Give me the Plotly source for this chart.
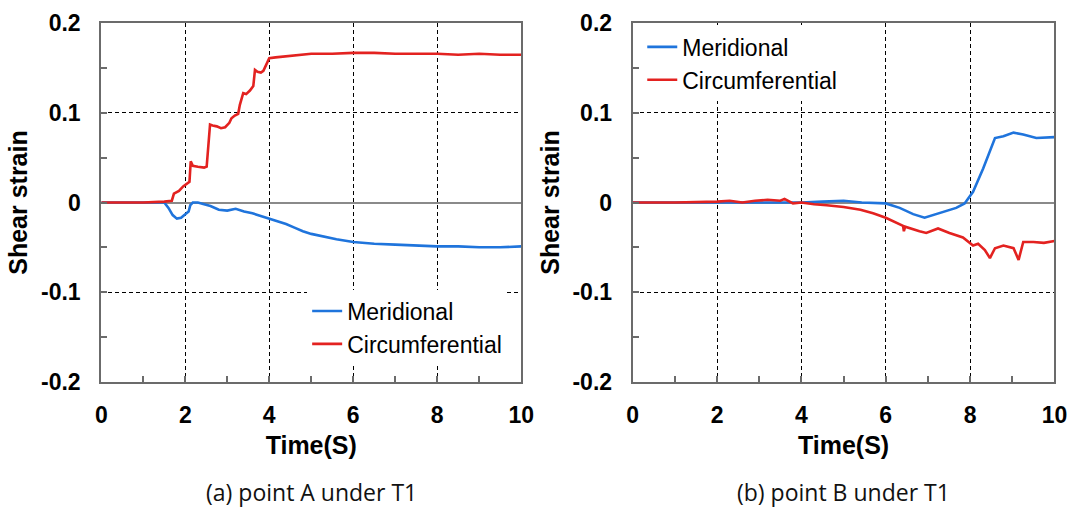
import plotly.graph_objects as go

# ---- (a) point A under T1 ----
a_circ_t = [0, 0.5, 1.0, 1.5, 1.68, 1.73, 1.85, 1.95, 2.05, 2.10, 2.13, 2.18, 2.30, 2.45, 2.51,
            2.55, 2.59, 2.65, 2.75, 2.85, 2.95, 3.05, 3.10, 3.18, 3.26, 3.30, 3.38, 3.45, 3.54,
            3.62, 3.66, 3.72, 3.80, 3.86, 3.93, 4.00, 4.15, 4.33, 4.6, 5.0, 5.5, 6.0, 6.5, 7.0,
            7.5, 8.0, 8.5, 9.0, 9.5, 10]
a_circ_v = [0, 0, 0, 0.001, 0.002, 0.010, 0.013, 0.018, 0.021, 0.023, 0.046, 0.041, 0.040, 0.039,
            0.040, 0.062, 0.087, 0.086, 0.085, 0.083, 0.084, 0.089, 0.094, 0.097, 0.099, 0.109,
            0.122, 0.121, 0.125, 0.130, 0.148, 0.146, 0.145, 0.147, 0.155, 0.161, 0.162, 0.163,
            0.164, 0.166, 0.166, 0.167, 0.167, 0.166, 0.166, 0.166, 0.165, 0.166, 0.165, 0.165]

a_meri_t = [0, 0.5, 1.0, 1.5, 1.6, 1.7, 1.8, 1.9, 2.0, 2.08, 2.12, 2.18, 2.3, 2.45, 2.6, 2.8,
            3.0, 3.2, 3.4, 3.6, 3.8, 4.0, 4.2, 4.4, 4.6, 4.8, 5.0, 5.3, 5.6, 6.0, 6.5, 7.0, 7.5,
            8.0, 8.5, 9.0, 9.5, 10]
a_meri_v = [0, 0, 0, 0, -0.006, -0.014, -0.018, -0.017, -0.013, -0.010, -0.003, 0.0, 0.0, -0.002,
            -0.004, -0.008, -0.009, -0.007, -0.010, -0.012, -0.015, -0.018, -0.021, -0.024,
            -0.028, -0.032, -0.035, -0.038, -0.041, -0.044, -0.046, -0.047, -0.048, -0.049,
            -0.049, -0.050, -0.050, -0.049]

# ---- (b) point B under T1 ----
b_meri_t = [0, 1, 2, 3, 4, 4.5, 5.0, 5.43, 6.0, 6.33, 6.65, 6.92, 7.28, 7.67, 7.87, 8.07, 8.31,
            8.47, 8.59, 8.79, 9.03, 9.26, 9.57, 10]
b_meri_v = [0, 0, 0, 0, 0, 0.001, 0.002, 0.0, -0.001, -0.006, -0.013, -0.017, -0.012, -0.006,
            -0.001, 0.012, 0.038, 0.057, 0.072, 0.074, 0.078, 0.076, 0.072, 0.073]

b_circ_t = [0, 1, 2, 2.3, 2.6, 2.9, 3.2, 3.5, 3.6, 3.8, 4.0, 4.3, 4.6, 5.0, 5.4, 5.7, 6.0, 6.2,
            6.41, 6.43, 6.46, 6.8, 6.96, 7.24, 7.51, 7.83, 8.07, 8.19, 8.35, 8.47, 8.59, 8.79,
            9.03, 9.15, 9.26, 9.5, 9.75, 10]
b_circ_v = [0, 0, 0.001, 0.002, 0.0, 0.002, 0.003, 0.002, 0.004, -0.001, 0.0, -0.002, -0.003,
            -0.005, -0.008, -0.012, -0.017, -0.021, -0.026, -0.032, -0.027, -0.032, -0.034,
            -0.029, -0.034, -0.039, -0.048, -0.046, -0.053, -0.062, -0.051, -0.048, -0.051,
            -0.064, -0.044, -0.044, -0.045, -0.043]

x_ticks = [0, 2, 4, 6, 8, 10]
x_minor = [1, 3, 5, 7, 9]
y_ticks = [-0.2, -0.1, 0, 0.1, 0.2]
y_labels = ["-0.2", "-0.1", "0", "0.1", "0.2"]
y_minor = [-0.15, -0.05, 0.05, 0.15]

captions = ["(a) point A under T1", "(b) point B under T1"]

BLUE = "#1f74dc"
RED = "#e32220"
FRAME = "#6b6b6b"
SANS = "Liberation Sans, Arial, sans-serif"

fig = go.Figure()
fig.add_trace(go.Scatter(x=a_meri_t, y=a_meri_v, name="Meridional", mode="lines",
                         line=dict(color=BLUE, width=2.6), xaxis="x", yaxis="y", legend="legend"))
fig.add_trace(go.Scatter(x=a_circ_t, y=a_circ_v, name="Circumferential", mode="lines",
                         line=dict(color=RED, width=2.6), xaxis="x", yaxis="y", legend="legend"))
fig.add_trace(go.Scatter(x=b_meri_t, y=b_meri_v, name="Meridional", mode="lines",
                         line=dict(color=BLUE, width=2.6), xaxis="x2", yaxis="y2", legend="legend2"))
fig.add_trace(go.Scatter(x=b_circ_t, y=b_circ_v, name="Circumferential", mode="lines",
                         line=dict(color=RED, width=2.6), xaxis="x2", yaxis="y2", legend="legend2"))

tickfont = dict(family=SANS, size=23, color="black", weight="bold")
titlefont = dict(family=SANS, size=25, color="black", weight="bold")


def xaxis(domain, anchor):
    return dict(domain=domain, anchor=anchor, range=[0, 10], tickmode="array", tickvals=x_ticks,
                ticks="inside", ticklen=6, tickcolor=FRAME, tickwidth=1.5,
                minor=dict(tickmode="array", tickvals=x_minor, ticks="inside", ticklen=6,
                           tickcolor=FRAME, tickwidth=1.5, showgrid=False),
                showgrid=True, gridcolor="black", gridwidth=1, griddash="4px,3px",
                showline=True, mirror=True, linecolor=FRAME, linewidth=2, zeroline=False,
                tickfont=tickfont, ticklabelstandoff=12,
                title=dict(text="Time(S)", font=titlefont, standoff=9), automargin=False)


def yaxis(domain, anchor):
    return dict(domain=domain, anchor=anchor, range=[-0.2, 0.2], tickmode="array",
                tickvals=y_ticks, ticktext=y_labels,
                ticks="inside", ticklen=6, tickcolor=FRAME, tickwidth=1.5,
                minor=dict(tickmode="array", tickvals=y_minor, ticks="inside", ticklen=6,
                           tickcolor=FRAME, tickwidth=1.5, showgrid=False),
                showgrid=True, gridcolor="black", gridwidth=1, griddash="4px,3px",
                zeroline=True, zerolinecolor="#8a8a8a", zerolinewidth=2,
                showline=True, mirror=True, linecolor=FRAME, linewidth=2,
                tickfont=tickfont, ticklabelstandoff=14,
                title=dict(text="Shear strain", font=titlefont, standoff=6), automargin=False)


ydom = [0.2486, 0.9541]
legfont = dict(family=SANS, size=23, color="black")
capfont = dict(family="Open Sans, sans-serif", size=23, color="#111")

fig.update_layout(
    width=1074, height=508,
    margin=dict(l=0, r=0, t=0, b=0),
    paper_bgcolor="white", plot_bgcolor="white",
    xaxis=xaxis([0.0943, 0.4853], "y"),
    yaxis=yaxis(ydom, "x"),
    xaxis2=xaxis([0.5891, 0.9818], "y2"),
    yaxis2=yaxis(ydom, "x2"),
    legend=dict(x=0.286, y=0.43, xanchor="left", yanchor="top", bgcolor="white",
                font=legfont, itemwidth=30, tracegroupgap=0, borderwidth=0),
    legend2=dict(x=0.598, y=0.95, xanchor="left", yanchor="top", bgcolor="white",
                 font=legfont, itemwidth=30, tracegroupgap=0, borderwidth=0),
    annotations=[
        dict(text=captions[0], x=0.2898, y=0.031, xref="paper", yref="paper",
             xanchor="center", yanchor="middle", showarrow=False, font=capfont),
        dict(text=captions[1], x=0.7855, y=0.031, xref="paper", yref="paper",
             xanchor="center", yanchor="middle", showarrow=False, font=capfont),
    ],
)

fig.write_html("out.html")
